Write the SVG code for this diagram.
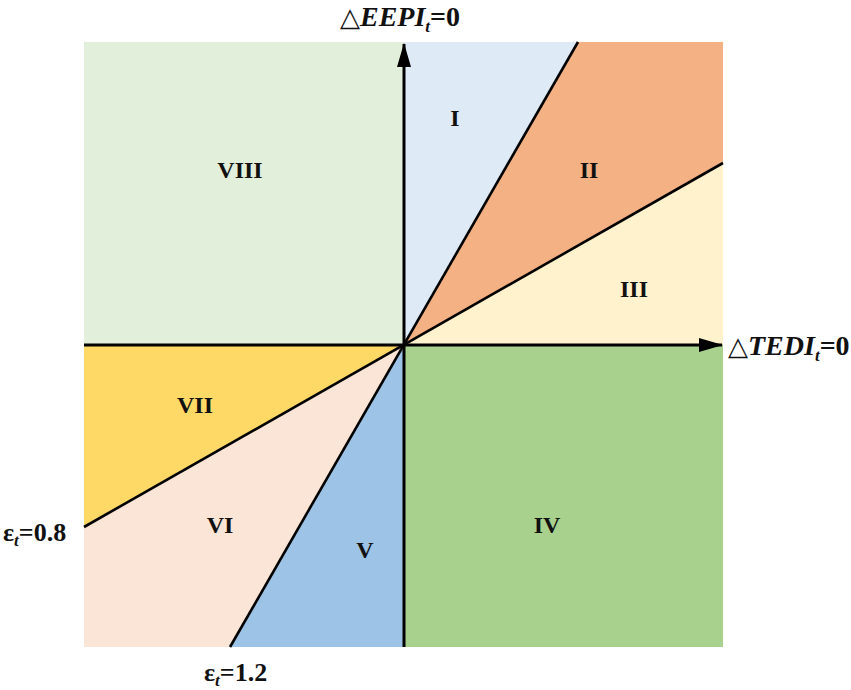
<svg xmlns="http://www.w3.org/2000/svg" width="851" height="690" viewBox="0 0 851 690">
<style>
.lbl{font-family:"Liberation Serif","Times New Roman",serif;font-weight:bold;font-size:24px;fill:#111;text-anchor:middle}
.ax{font-family:"Liberation Serif","Times New Roman",serif;font-weight:bold;font-size:28px;fill:#111}
.tri{font-family:"DejaVu Sans",sans-serif;font-weight:normal;font-size:26px}
.it{font-style:italic}
.sub{font-style:italic;font-size:17px}
.eps{font-family:"Liberation Serif","Times New Roman",serif;font-weight:bold;font-size:26px;fill:#111}
.axis{stroke:#000;stroke-width:3;fill:none}
.div{stroke:#000;stroke-width:2.6;fill:none}
</style>
<defs>
<marker id="ahb" markerWidth="24" markerHeight="14" refX="23" refY="7" orient="auto" markerUnits="userSpaceOnUse" viewBox="0 0 24 14">
<path d="M0,0 L24,7 L0,14 Z" fill="#000"/>
</marker>
</defs>
<g id="regions">
<g id="r8"><polygon points="84,42 404,42 404,345 84,345" fill="#E2EFDA"/><text class="lbl" x="240" y="178">VIII</text></g>
<g id="r1"><polygon points="404,42 578,42 404,345" fill="#DEEAF6"/><text class="lbl" x="455" y="126">I</text></g>
<g id="r2"><polygon points="578,42 723,42 723,163 404,345" fill="#F4B183"/><text class="lbl" x="589" y="178">II</text></g>
<g id="r3"><polygon points="723,163 723,345 404,345" fill="#FFF2CC"/><text class="lbl" x="634" y="297">III</text></g>
<g id="r4"><polygon points="404,345 723,345 723,647 404,647" fill="#A9D18E"/><text class="lbl" x="547" y="533">IV</text></g>
<g id="r5"><polygon points="404,345 404,647 230,647" fill="#9DC3E6"/><text class="lbl" x="365" y="558">V</text></g>
<g id="r6"><polygon points="404,345 230,647 84,647 84,527" fill="#FBE5D6"/><text class="lbl" x="220" y="533">VI</text></g>
<g id="r7"><polygon points="404,345 84,527 84,345" fill="#FFD966"/><text class="lbl" x="195" y="413">VII</text></g>
</g>
<g id="connectors">
<line class="div" x1="578" y1="42" x2="230" y2="647"/>
<line class="div" x1="723" y1="163" x2="84" y2="527"/>
<line class="axis" x1="84" y1="345" x2="722" y2="345" marker-end="url(#ahb)"/>
<line class="axis" x1="404" y1="647" x2="404" y2="44" marker-end="url(#ahb)"/>
</g>
<g id="labels">
<text class="ax" x="340" y="26"><tspan class="tri">△</tspan><tspan class="it">EEPI</tspan><tspan class="sub" dy="6">t</tspan><tspan dy="-6">=0</tspan></text>
<text class="ax" x="728" y="355"><tspan class="tri">△</tspan><tspan class="it">TEDI</tspan><tspan class="sub" dy="6">t</tspan><tspan dy="-6">=0</tspan></text>
<text class="eps" x="3" y="541">ε<tspan class="sub" dy="5">t</tspan><tspan dy="-5">=0.8</tspan></text>
<text class="eps" x="204" y="681">ε<tspan class="sub" dy="5">t</tspan><tspan dy="-5">=1.2</tspan></text>
</g>
</svg>
